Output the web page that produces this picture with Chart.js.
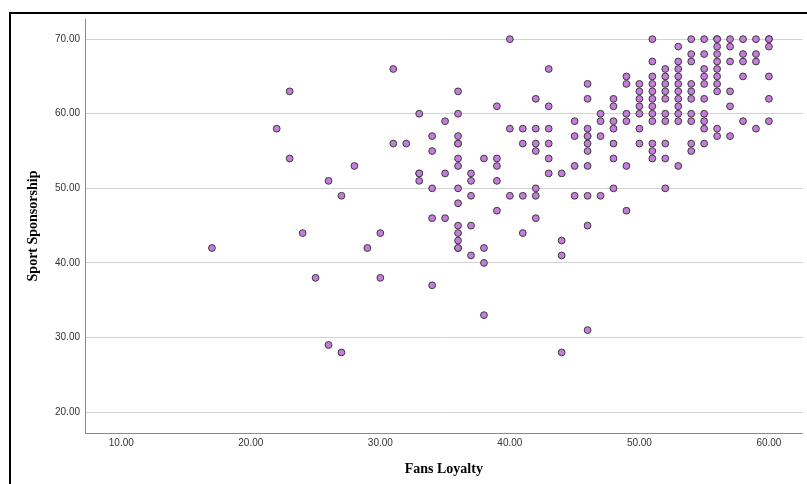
<!DOCTYPE html>
<html>
<head>
<meta charset="utf-8">
<script src="https://cdn.jsdelivr.net/npm/chart.js@4"></script>
<style>
  html, body { margin: 0; padding: 0; background: #fff; }
  #wrap { width: 807px; height: 484px; }
</style>
</head>
<body>
<div id="wrap"><canvas id="myChart"></canvas></div>
<script>
// one line per Fans Loyalty value, same order in both arrays
const fansLoyalty = [
  17,
  22,
  23, 23,
  24,
  25,
  26, 26,
  27, 27,
  28,
  29,
  30, 30,
  31, 31,
  32,
  33, 33, 33, 33,
  34, 34, 34, 34, 34,
  35, 35, 35,
  36, 36, 36, 36, 36, 36, 36, 36, 36, 36, 36, 36, 36, 36,
  37, 37, 37, 37, 37,
  38, 38, 38, 38,
  39, 39, 39, 39, 39,
  40, 40, 40,
  41, 41, 41, 41,
  42, 42, 42, 42, 42, 42, 42,
  43, 43, 43, 43, 43, 43,
  44, 44, 44, 44,
  45, 45, 45, 45,
  46, 46, 46, 46, 46, 46, 46, 46, 46, 46, 46,
  47, 47, 47, 47,
  48, 48, 48, 48, 48, 48, 48,
  49, 49, 49, 49, 49, 49,
  50, 50, 50, 50, 50, 50, 50,
  51, 51, 51, 51, 51, 51, 51, 51, 51, 51, 51, 51,
  52, 52, 52, 52, 52, 52, 52, 52, 52, 52,
  53, 53, 53, 53, 53, 53, 53, 53, 53, 53, 53,
  54, 54, 54, 54, 54, 54, 54, 54, 54, 54,
  55, 55, 55, 55, 55, 55, 55, 55, 55, 55,
  56, 56, 56, 56, 56, 56, 56, 56, 56, 56, 56,
  57, 57, 57, 57, 57, 57,
  58, 58, 58, 58, 58,
  59, 59, 59, 59,
  60, 60, 60, 60, 60, 60,
];
const sportSponsorship = [
  42,
  58,
  63, 54,
  44,
  38,
  51, 29,
  49, 28,
  53,
  42,
  44, 38,
  66, 56,
  56,
  60, 52, 52, 51,
  57, 55, 50, 46, 37,
  59, 52, 46,
  63, 60, 57, 56, 56, 54, 53, 50, 48, 45, 44, 43, 42, 42,
  52, 51, 49, 45, 41,
  54, 42, 40, 33,
  61, 54, 53, 51, 47,
  70, 58, 49,
  58, 56, 49, 44,
  62, 58, 56, 55, 50, 49, 46,
  66, 61, 58, 56, 54, 52,
  52, 43, 41, 28,
  59, 57, 53, 49,
  64, 62, 58, 57, 57, 56, 55, 53, 49, 45, 31,
  60, 59, 57, 49,
  62, 61, 59, 58, 56, 54, 50,
  65, 64, 60, 59, 53, 47,
  64, 63, 62, 61, 60, 58, 56,
  70, 67, 65, 64, 63, 62, 61, 60, 59, 56, 55, 54,
  66, 65, 64, 63, 62, 60, 59, 56, 54, 50,
  69, 67, 66, 65, 64, 63, 62, 61, 60, 59, 53,
  70, 68, 67, 64, 63, 62, 60, 59, 56, 55,
  70, 68, 66, 65, 64, 62, 60, 59, 58, 56,
  70, 70, 69, 68, 67, 66, 65, 64, 63, 58, 57,
  70, 69, 67, 63, 61, 57,
  70, 68, 67, 65, 59,
  70, 68, 67, 58,
  70, 70, 69, 65, 62, 59,
];
const xTicks = [10, 20, 30, 40, 50, 60];
const yTicks = [20, 30, 40, 50, 60, 70];

// black frame round the output, cut off at right and bottom
const frame = {
  id: 'frame',
  afterDraw(chart) {
    const c = chart.ctx;
    c.save();
    c.strokeStyle = '#000';
    c.lineWidth = 2;
    c.strokeRect(10, 13, 1000, 1000);
    c.restore();
  }
};

const tickFont = { family: 'Liberation Sans', size: 10 };
const titleFont = { family: 'Liberation Serif', size: 14, weight: 'bold' };

const ctx = document.getElementById('myChart');

new Chart(ctx, {
  type: 'scatter',
  plugins: [frame],
  data: {
    datasets: [
      {
        data: fansLoyalty.map((x, i) => ({ x: x, y: sportSponsorship[i] })),
        backgroundColor: '#c67cdc',
        borderColor: '#3a3a3a',
        borderWidth: 1,
        pointRadius: 3.4,
        pointHoverRadius: 3.4,
      },
    ],
  },
  options: {
    responsive: true,
    maintainAspectRatio: false,
    animation: false,
    devicePixelRatio: 1,
    layout: {
      padding: { top: 19, left: 0, right: 0, bottom: 0 },
    },
    plugins: {
      legend: { display: false },
      tooltip: { enabled: false },
    },
    scales: {
      x: {
        type: 'linear',
        position: 'bottom',
        min: 7.2,
        max: 62.6,
        afterBuildTicks: (s) => { s.ticks = xTicks.map((v) => ({ value: v })); },
        afterFit: (s) => { s.height = 51; },
        grid: { display: false, drawTicks: false },
        border: { display: true, color: '#8a8a8a', width: 1 },
        ticks: {
          callback: (v) => Number(v).toFixed(2),
          font: tickFont,
          color: '#333',
          padding: 4,
          maxRotation: 0,
        },
        title: {
          display: true,
          text: 'Fans Loyalty',
          font: titleFont,
          color: '#000',
          padding: { top: 0, bottom: 6 },
        },
      },
      y: {
        type: 'linear',
        min: 17.2,
        max: 72.7,
        afterBuildTicks: (s) => { s.ticks = yTicks.map((v) => ({ value: v })); },
        afterFit: (s) => { s.width = 85; },
        grid: { color: '#d2d2d2', lineWidth: 1, drawTicks: false },
        border: { display: true, color: '#8a8a8a', width: 1 },
        ticks: {
          callback: (v) => Number(v).toFixed(2),
          font: tickFont,
          color: '#333',
          padding: 5,
        },
        title: {
          display: true,
          text: 'Sport Sponsorship',
          font: titleFont,
          color: '#000',
          padding: { top: 25, bottom: 0 },
        },
      },
    },
  },
});
</script>
</body>
</html>
